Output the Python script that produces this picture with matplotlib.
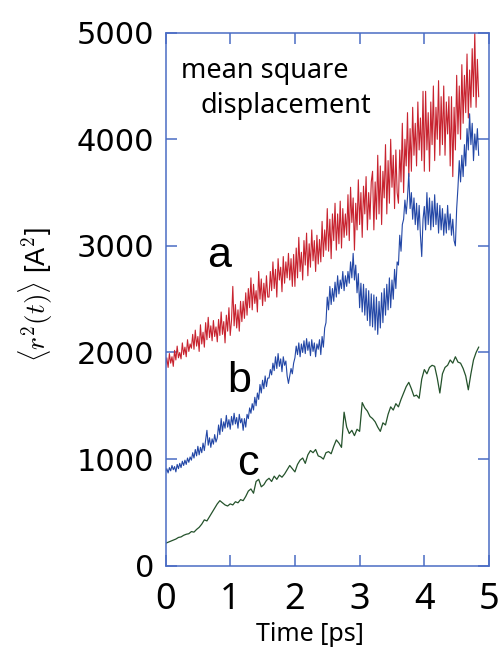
import numpy as np
import matplotlib
matplotlib.use("Agg")
import matplotlib.pyplot as plt

# time grids (ps)
t_ab = np.arange(243) * 0.02
t_c = np.arange(122) * 0.04

# a : red trace
msd_a = [1880, 1950, 1860, 1990, 1900, 1960, 1870, 2020, 1930, 2060, 1950, 2000, 1940, 2090, 1980, 2050, 1960, 2120, 2010, 2080,
         2040, 2170, 2030, 2210, 2060, 2150, 2010, 2260, 2080, 2190, 2050, 2280, 2120, 2330, 2140, 2250, 2110, 2300, 2150, 2240,
         2100, 2310, 2160, 2380, 2170, 2290, 2090, 2350, 2200, 2420, 2160, 2300, 2620, 2250, 2450, 2230, 2400, 2200, 2480, 2290,
         2480, 2320, 2560, 2350, 2600, 2420, 2700, 2400, 2640, 2460, 2580, 2380, 2760, 2500, 2690, 2440, 2650, 2480, 2720, 2520,
         2520, 2760, 2580, 2850, 2600, 2780, 2520, 2880, 2680, 2800, 2570, 2900, 2650, 2850, 2700, 2930, 2680, 2880, 2620, 2920,
         2620, 2980, 2700, 3080, 2760, 2940, 2680, 3050, 2820, 3120, 2720, 3020, 2800, 3150, 2860, 3050, 2760, 3100, 2830, 3060,
         2850, 3230, 2900, 3150, 2960, 3350, 2950, 3250, 2880, 3300, 3050, 3400, 2960, 3300, 3020, 3420, 2980, 3350, 3080, 3300,
         3100, 3480, 3050, 3550, 3220, 3450, 2960, 3400, 3150, 3620, 3200, 3500, 3080, 3560, 3300, 3650, 3150, 3500, 3250, 3600,
         3700, 3150, 3600, 3250, 3850, 3300, 3750, 3200, 3700, 3450, 3950, 3300, 3800, 3400, 4000, 3550, 3850, 3350, 3900, 3500,
         3400, 3900, 3600, 4150, 3500, 4000, 3750, 4250, 3650, 4100, 3700, 4300, 3850, 4150, 3750, 4350, 3900, 4200, 3800, 4450,
         3700, 4450, 3900, 4250, 3700, 4350, 3950, 4500, 3800, 4300, 4000, 4550, 3850, 4400, 3950, 4500, 3850, 4350, 4050, 4400,
         3750, 4400, 3650, 4300, 3900, 4600, 4050, 4500, 4000, 4700, 4150, 4600, 4250, 4800, 4200, 4650, 4300, 4850, 4400, 5000,
         4300, 4750, 4400]

# b : blue trace
msd_b = [880, 910, 870, 920, 890, 940, 900, 930, 880, 950, 910, 960, 920, 980, 940, 990, 950, 1010, 970, 1020,
         990, 1060, 1010, 1090, 1030, 1120, 1040, 1110, 1060, 1150, 1080, 1180, 1270, 1130, 1200, 1110, 1190, 1140, 1230, 1160,
         1200, 1320, 1230, 1380, 1260, 1350, 1290, 1410, 1300, 1370, 1280, 1400, 1320, 1430, 1330, 1390, 1290, 1420, 1340, 1380,
         1270, 1380, 1300, 1420, 1380, 1480, 1430, 1520, 1460, 1580, 1500, 1620, 1560, 1700, 1620, 1740, 1660, 1780, 1680, 1760,
         1760, 1840, 1790, 1900, 1830, 1960, 1850, 1990, 1870, 1940, 1820, 1960, 1880, 1920, 1780, 1710, 1780, 1850, 1800, 1900,
         1950, 2060, 1980, 2090, 1960, 2080, 2000, 2110, 1990, 2130, 2020, 2100, 1970, 2120, 2010, 2090, 1960, 2080, 2030, 2120,
         1980, 2150, 2050, 2230, 2280, 2520, 2400, 2620, 2450, 2600, 2480, 2660, 2520, 2720, 2550, 2680, 2600, 2760, 2580, 2720,
         2620, 2760, 2650, 2850, 2700, 2930, 2680, 2820, 2560, 2740, 2420, 2650, 2380, 2640, 2350, 2600, 2300, 2580, 2250, 2550,
         2240, 2540, 2210, 2520, 2170, 2480, 2230, 2560, 2280, 2600, 2350, 2640, 2400, 2700, 2420, 2680, 2500, 2780, 2600, 2850,
         2820, 3100, 2950, 3200, 3250, 3430, 3300, 3450, 3680, 3350, 3500, 3250, 3450, 3200, 3400, 3150, 3380, 3100, 2900, 3250,
         3370, 3150, 3500, 3200, 3450, 3150, 3420, 3180, 3480, 3200, 3400, 3120, 3380, 3150, 3350, 3100, 3300, 3120, 3380, 3150,
         3300, 3100, 3250, 3050, 3000, 3350, 3550, 3800, 3600, 3850, 3650, 3950, 3750, 4100, 3900, 4240, 3950, 4150, 3800, 4050,
         3900, 4100, 3850]

# c : green trace
msd_c = [210, 220, 230, 240, 250, 265, 270, 285, 295, 300,
         320, 315, 340, 360, 390, 430, 420, 460, 500, 540,
         580, 610, 590, 570, 560, 580, 570, 600, 590, 620,
         610, 650, 700, 720, 680, 790, 810, 740, 760, 800,
         820, 790, 840, 810, 850, 830, 860, 900, 940, 910,
         880, 950, 990, 1010, 960, 1040, 1080, 1060, 1090, 1030,
         1020, 1000, 1060, 1070, 1050, 1120, 1180, 1150, 1110, 1440,
         1300, 1240, 1270, 1220, 1280, 1260, 1530, 1480, 1450, 1400,
         1380, 1350, 1300, 1260, 1340, 1320, 1420, 1490, 1460, 1520,
         1490, 1560, 1620, 1680, 1720, 1660, 1590, 1600, 1570, 1750,
         1840, 1800, 1860, 1880, 1870, 1760, 1620, 1800, 1860, 1880,
         1930, 1900, 1960, 1910, 1900, 1850, 1780, 1650, 1800, 1930,
         2000, 2050]

plt.rcParams['mathtext.fontset'] = 'cm'
axcol = '#4a6cc4'

fig = plt.figure(figsize=(4.99, 6.5), dpi=100)
ax = fig.add_axes([0.3317, 0.1297, 0.6483, 0.82])

ax.plot(t_ab, msd_a, color='#c8232f', lw=0.8)
ax.plot(t_ab, msd_b, color='#2347a6', lw=0.8)
ax.plot(t_c, msd_c, color='#24522b', lw=0.9)

ax.set_xlim(0, 5)
ax.set_ylim(0, 5000)
ax.set_xticks([0, 1, 2, 3, 4, 5])
ax.set_yticks([0, 1000, 2000, 3000, 4000, 5000])
for s in ax.spines.values():
    s.set_color(axcol)
    s.set_linewidth(1.1)
ax.tick_params(direction='in', top=True, right=True, length=8, width=1.1, color=axcol)
ax.tick_params(axis='y', labelsize=22, pad=8)
ax.tick_params(axis='x', labelsize=26, pad=12)
for lab in ax.get_xticklabels():
    lab.set_fontfamily('Noto Sans')

ax.set_xlabel('Time [ps]', fontsize=18, family='Noto Sans')
ax.xaxis.set_label_coords(0.447, -0.105)
ax.set_ylabel(r'$\langle r^2(t)\rangle$ [A$^2$]', fontsize=19.5, family='Liberation Sans')
ax.yaxis.set_label_coords(-0.342, 0.508)

ax.text(0.048, 0.915, 'mean square', transform=ax.transAxes, fontsize=19.5,
        family='Noto Sans', va='baseline')
ax.text(0.107, 0.85, 'displacement', transform=ax.transAxes, fontsize=19.5,
        family='Noto Sans', va='baseline')

ax.text(0.13, 0.56, 'a', transform=ax.transAxes, fontsize=31, family='Liberation Sans')
ax.text(0.19, 0.325, 'b', transform=ax.transAxes, fontsize=31, family='Liberation Sans')
ax.text(0.22, 0.17, 'c', transform=ax.transAxes, fontsize=31, family='Liberation Sans')

fig.savefig('out.png', dpi=100)
